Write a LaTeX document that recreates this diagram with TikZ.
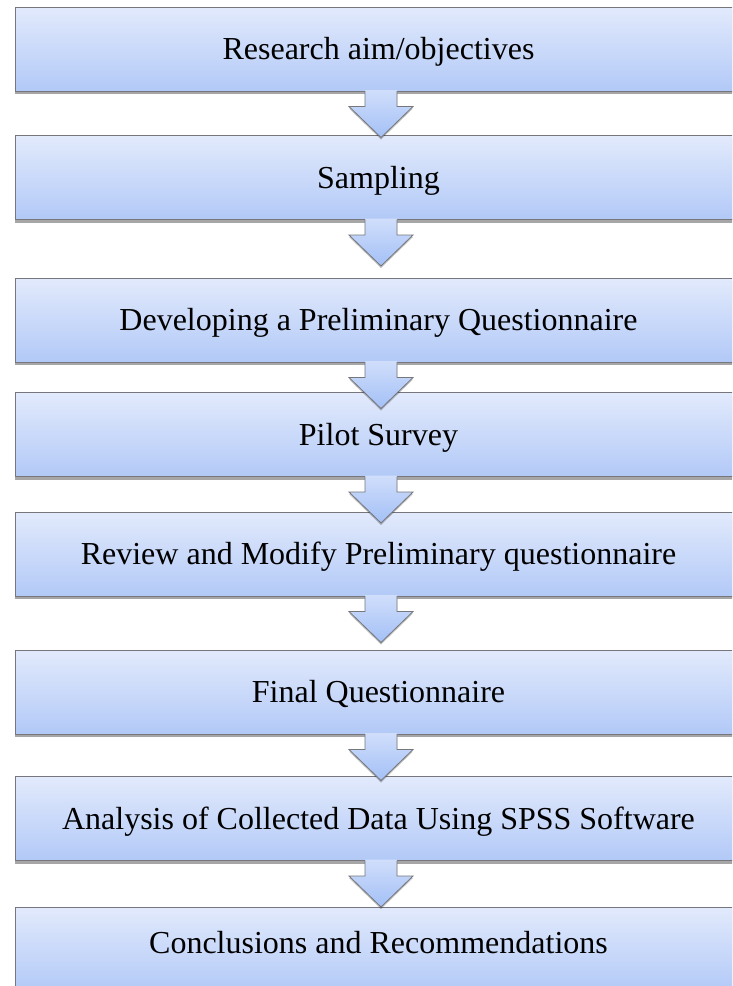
\documentclass[tikz,border=0pt]{standalone}
\usepackage{fontspec}
\setmainfont{Liberation Serif}
\usetikzlibrary{shadows,calc}
\definecolor{boxtop}{RGB}{226,234,252}
\definecolor{boxbot}{RGB}{178,201,247}
\definecolor{arrtop}{RGB}{208,222,251}
\definecolor{arrbot}{RGB}{163,192,246}
\definecolor{edgegray}{RGB}{118,118,124}
\tikzset{
  stepbox/.style={draw=edgegray, line width=1pt, top color=boxtop, bottom color=boxbot,
    minimum width=727pt, minimum height=84pt, inner sep=0pt,
    text height=25pt, text depth=4pt,
    font=\fontsize{32}{38}\selectfont,
    drop shadow={shadow xshift=0pt, shadow yshift=-3pt, opacity=0.35, fill=black}},
  laststep/.style={stepbox, text height=16pt, text depth=8pt},
  arrowfill/.style={top color=arrtop, bottom color=arrbot,
    drop shadow={shadow xshift=0pt, shadow yshift=-2pt, opacity=0.25, fill=black}},
  arrowline/.style={draw=edgegray, line width=0.8pt, line join=miter},
}
\newcommand\flowarr[1]{%
  \coordinate (a#1) at ($(#1.south)+(2.5,0)$);
  \path[arrowfill] ($(a#1)+(-16,1.5)$) -- ($(a#1)+(-16,-15)$) -- ($(a#1)+(-32,-15)$) -- ($(a#1)+(0,-46)$) -- ($(a#1)+(32,-15)$) -- ($(a#1)+(16,-15)$) -- ($(a#1)+(16,1.5)$) -- cycle;
  \draw[arrowline] ($(a#1)+(-16,0.5)$) -- ($(a#1)+(-16,-15)$) -- ($(a#1)+(-32,-15)$) -- ($(a#1)+(0,-46)$) -- ($(a#1)+(32,-15)$) -- ($(a#1)+(16,-15)$) -- ($(a#1)+(16,0.5)$);
}
\begin{document}
\begin{tikzpicture}[x=1pt,y=1pt]
\useasboundingbox (0,0) rectangle (732,-986);
\clip (0,0) rectangle (732,-986);
\fill[white] (0,0) rectangle (732,-986);
\node[stepbox] (b1) at (378.5,-49) {Research aim/objectives};
\node[stepbox] (b2) at (378.5,-177.5) {Sampling};
\node[stepbox] (b3) at (378.5,-320) {Developing a Preliminary Questionnaire};
\node[stepbox] (b4) at (378.5,-434.5) {Pilot Survey};
\node[stepbox] (b5) at (378.5,-554) {Review and Modify Preliminary questionnaire};
\node[stepbox] (b6) at (378.5,-692) {Final Questionnaire};
\node[stepbox] (b7) at (378.5,-818.5) {Analysis of Collected Data Using SPSS Software};
\node[laststep] (b8) at (378.5,-949) {Conclusions and Recommendations};
\flowarr{b1}
\flowarr{b2}
\flowarr{b3}
\flowarr{b4}
\flowarr{b5}
\flowarr{b6}
\flowarr{b7}
\end{tikzpicture}
\end{document}
